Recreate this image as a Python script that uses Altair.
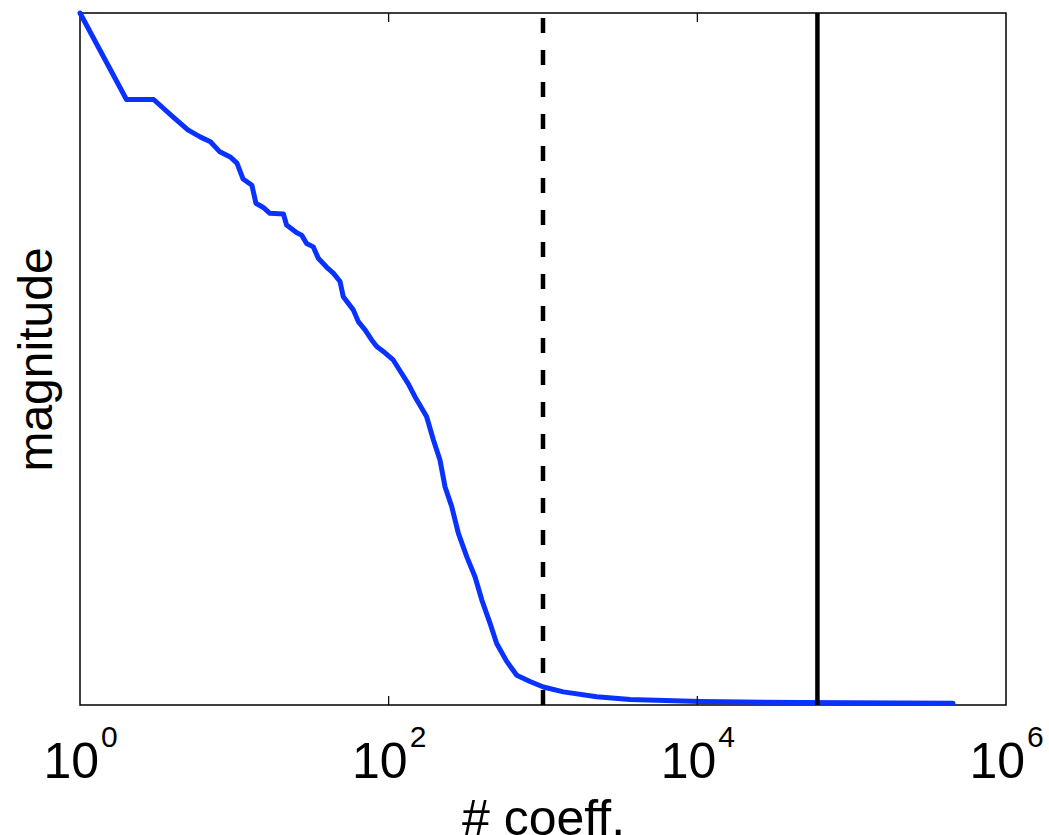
import altair as alt
import pandas as pd

# sorted coefficient magnitudes (y normalised to 0..1)
coeff = [1, 2, 3, 4, 5, 6, 7, 8, 9.4, 10.4, 11.4, 13, 13.8, 15.4, 17, 20.8, 21.8,
         25.4, 27.3, 29.4, 32.5, 35, 39.7, 43.8, 48.4, 50.8, 59, 63.6, 70.3, 77.6,
         83.7, 94.7, 107, 121.5, 134, 148, 176, 195, 215, 232, 256, 283, 321, 363,
         401, 454, 501, 582, 676, 824, 1005, 1355, 2228, 3664, 10400, 46300, 454000]
magnitude = [1.0, 0.875, 0.875, 0.850, 0.831, 0.821, 0.814, 0.800, 0.792, 0.783,
             0.760, 0.751, 0.725, 0.719, 0.7105, 0.7095, 0.6936, 0.6825, 0.679, 0.667,
             0.662, 0.6455, 0.6325, 0.624, 0.612, 0.590, 0.571, 0.554, 0.542, 0.5275,
             0.518, 0.509, 0.4986, 0.479, 0.464, 0.4455, 0.417, 0.383, 0.354, 0.315,
             0.287, 0.248, 0.214, 0.185, 0.152, 0.118, 0.089, 0.063, 0.043, 0.034,
             0.026, 0.019, 0.012, 0.008, 0.005, 0.0035, 0.0025]

dashed_at = [1000]
solid_at = [60000]

tick_values = [1, 100, 10000, 1000000]
tick_exponents = ["0", "2", "4", "6"]
inner_ticks = [100, 10000]

W, H = 926, 692
FONT = "Liberation Sans"

curve_df = pd.DataFrame({"coeff": coeff, "magnitude": magnitude})
dash_df = pd.DataFrame({"coeff": dashed_at})
solid_df = pd.DataFrame({"coeff": solid_at})
lab_df = pd.DataFrame({"coeff": tick_values, "exp": tick_exponents, "base": ["10"] * 4})
itick_df = pd.DataFrame({"coeff": inner_ticks})

xscale = alt.Scale(type="log", domain=[1, 1000000], nice=False)
yscale = alt.Scale(domain=[0, 1], nice=False, zero=False)

xaxis = alt.Axis(labels=False, ticks=False, domain=False, grid=False,
                 title="# coeff.", titleFont=FONT, titleFontSize=50,
                 titleFontWeight="normal", titleColor="black",
                 titleBaseline="alphabetic", titlePadding=129)
yaxis = alt.Axis(labels=False, ticks=False, domain=False, grid=False,
                 title="magnitude", titleFont=FONT, titleFontSize=48,
                 titleFontWeight="normal", titleColor="black",
                 titleBaseline="alphabetic", titlePadding=29)

curve = alt.Chart(curve_df).mark_line(
    color="#0a32ff", strokeWidth=5, strokeCap="round", strokeJoin="round"
).encode(
    x=alt.X("coeff:Q", scale=xscale, axis=xaxis),
    y=alt.Y("magnitude:Q", scale=yscale, axis=yaxis),
    order="coeff:Q",
)

dashed = alt.Chart(dash_df).mark_rule(
    color="black", strokeWidth=4.5, strokeDash=[15, 17], strokeDashOffset=27
).encode(x=alt.X("coeff:Q", scale=xscale), y=alt.value(0), y2=alt.value(H))

solid = alt.Chart(solid_df).mark_rule(color="black", strokeWidth=4.5).encode(
    x=alt.X("coeff:Q", scale=xscale), y=alt.value(0), y2=alt.value(H)
)

ticks_bottom = alt.Chart(itick_df).mark_rule(color="black", strokeWidth=1.2).encode(
    x=alt.X("coeff:Q", scale=xscale), y=alt.value(H), y2=alt.value(H - 9)
)
ticks_top = alt.Chart(itick_df).mark_rule(color="black", strokeWidth=1.2).encode(
    x=alt.X("coeff:Q", scale=xscale), y=alt.value(0), y2=alt.value(9)
)

base_labels = alt.Chart(lab_df).mark_text(
    font=FONT, fontSize=50, align="right", baseline="alphabetic", dx=19, color="black"
).encode(x=alt.X("coeff:Q", scale=xscale), y=alt.value(H + 73), text="base:N")

exp_labels = alt.Chart(lab_df).mark_text(
    font=FONT, fontSize=30, align="left", baseline="alphabetic", dx=21, color="black"
).encode(x=alt.X("coeff:Q", scale=xscale), y=alt.value(H + 42), text="exp:N")

chart = alt.layer(
    curve, dashed, solid, ticks_bottom, ticks_top, base_labels, exp_labels
).properties(
    width=W, height=H,
    autosize=alt.AutoSizeParams(type="none"),
    padding={"left": 80, "top": 13, "right": 43, "bottom": 130},
    background="white",
).configure_view(stroke="black", strokeWidth=1.5)

chart.save("out.html", embed_options={"renderer": "svg", "actions": False})
